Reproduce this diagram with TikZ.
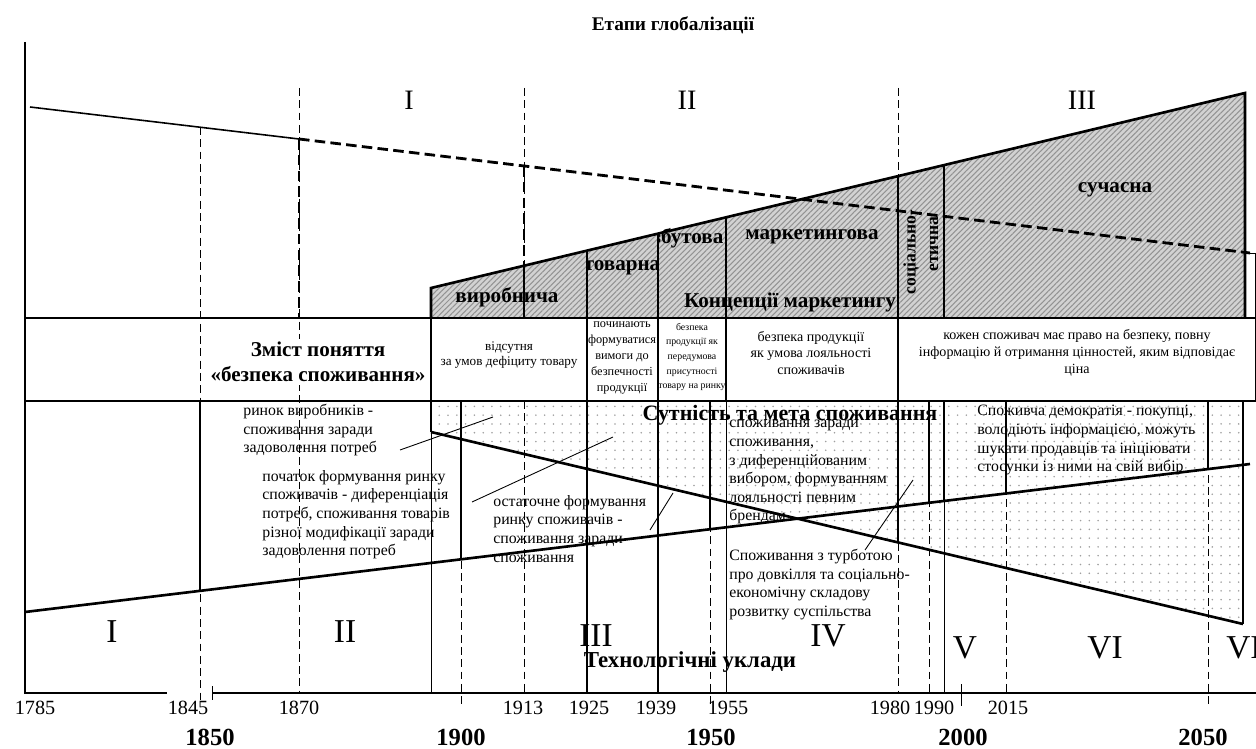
\documentclass[tikz,border=0pt]{standalone}
\usepackage{fontspec}
\setmainfont{Liberation Serif}
\usepackage{tikz}
\usetikzlibrary{patterns.meta}
\usetikzlibrary{calc}

\begin{document}
\begin{tikzpicture}[
        x=0.02cm, y=-0.02cm,
        frame/.style={line width=1.5pt},
        divider/.style={line width=1.1pt},
        fine/.style={line width=0.5pt},
        period/.style={line width=0.5pt, dash pattern=on 4.5pt off 2.5pt},
        trend/.style={line width=1.6pt, dash pattern=on 6pt off 3pt},
        hatched/.style={fill=gray!35, postaction={pattern={Lines[angle=45,distance=2.2pt,line width=0.6pt]}, pattern color=gray!85}},
        speckled/.style={pattern={Dots[distance=5pt,radius=0.5pt]}, pattern color=gray!75},
        title/.style={font=\bfseries\fontsize{11}{13}\selectfont, inner sep=1pt},
        stage/.style={font=\bfseries\fontsize{12}{14}\selectfont, inner sep=0pt},
        phase/.style={font=\fontsize{16}{19}\selectfont, inner sep=0pt},
        era/.style={font=\fontsize{19}{22}\selectfont, inner sep=0pt},
        note/.style={font=\fontsize{9}{10.6}\selectfont, align=left, anchor=north west, inner sep=0pt},
        cell/.style={align=center, inner sep=0pt},
        year/.style={font=\fontsize{11.5}{13}\selectfont, inner sep=0pt},
        bigyear/.style={font=\bfseries\fontsize{14}{16}\selectfont, inner sep=0pt}
    ]

    %=== Layout parameters (pixels of the original) ===%
    \def\axisy{693}
    \def\rowtop{318}
    \def\rowbot{401}

    \clip (0,0) rectangle (1256,749);

    %=== Shaded areas ===%
    \path[speckled] (431,\rowbot) -- (1243,\rowbot) -- (1243,624) -- (431,432) -- cycle;
    \path[hatched] (431,\rowtop) -- (431,288) -- (1245,93) -- (1245,\rowtop) -- cycle;

    %=== Period lines ===%
    \draw[period] (200,127) -- (200,700);
    \draw[period] (299,88) -- (299,\axisy);
    \draw[period] (524,88) -- (524,\rowtop);
    \draw[period] (524,\rowbot) -- (524,\axisy);
    \draw[period] (898,88) -- (898,\axisy);
    \draw[period] (461,\rowbot) -- (461,708);
    \draw[period] (710,\rowbot) -- (710,708);
    \draw[period] (929,\rowbot) -- (929,\axisy);
    \draw[period] (1006,\rowbot) -- (1006,\axisy);
    \draw[period] (1208,\rowbot) -- (1208,708);

    % thin solid lines down to the axis
    \draw[fine] (431,432) -- (431,\axisy);
    \draw[line width=0.8pt] (587,\rowbot) -- (587,\axisy);
    \draw[line width=0.8pt] (658,\rowbot) -- (658,\axisy);
    \draw[fine] (726,\rowbot) -- (726,\axisy);
    \draw[fine] (944,501) -- (944,\axisy);
    \draw[fine] (212,686) -- (212,700);
    \draw[fine] (961,684) -- (961,706);

    %=== Axes ===%
    \draw[line width=0.7pt] (25,42) -- (25,\axisy) -- (167,\axisy);
    \draw[line width=0.7pt] (212,\axisy) -- (1256,\axisy);

    %=== Globalisation trend ===%
    \draw[line width=0.9pt] (30,107) -- (299,139);
    \draw[trend] (299,139) -- (1250,253);
    \draw[trend] (299,139) -- (299,\rowtop);
    \draw[trend] (524,166) -- (524,266);
    \draw[divider] (524,266) -- (524,\rowtop);

    %=== Marketing concepts wedge ===%
    \draw[frame] (431,\rowtop) -- (431,288) -- (1245,93) -- (1245,\rowtop);
    \draw[divider] (587,251) -- (587,\rowtop);
    \draw[divider] (658,234) -- (658,\rowtop);
    \draw[divider] (726,217) -- (726,\rowtop);
    \draw[divider] (898,176) -- (898,\rowtop);
    \draw[divider] (944,165) -- (944,\rowtop);
    \draw[fine] (1245,253) -- (1255,253) -- (1255,\rowtop);

    %=== Content row ===%
    \draw[frame] (25,\rowtop) rectangle (1256,\rowbot);
    \draw[divider] (431,\rowtop) -- (431,\rowbot);
    \draw[divider] (587,\rowtop) -- (587,\rowbot);
    \draw[divider] (658,\rowtop) -- (658,\rowbot);
    \draw[divider] (726,\rowtop) -- (726,\rowbot);
    \draw[divider] (898,\rowtop) -- (898,\rowbot);

    %=== Consumption part ===%
    \draw[frame] (25,612) -- (1250,464);
    \draw[frame] (431,432) -- (1243,624);
    \draw[divider] (200,\rowbot) -- (200,591);
    \draw[divider] (431,\rowbot) -- (431,432);
    \draw[divider] (461,\rowbot) -- (461,559);
    \draw[divider] (710,\rowbot) -- (710,529);
    \draw[divider] (898,\rowbot) -- (898,542);
    \draw[divider] (929,\rowbot) -- (929,503);
    \draw[divider] (944,\rowbot) -- (944,501);
    \draw[divider] (1006,\rowbot) -- (1006,493);
    \draw[divider] (1208,\rowbot) -- (1208,469);
    \draw[divider] (1243,\rowbot) -- (1243,624);

    %=== Headings ===%
    \node[title] (etapy) at (673,25) {Етапи глобалізації};
    \node[phase] (gI) at (409,100) {I};
    \node[phase] (gII) at (687,100) {II};
    \node[phase] (gIII) at (1082,100) {III};

    %=== Wedge labels ===%
    \node[stage] (vyrob) at (507,297) {виробнича};
    \begin{scope}
        \clip (587,240) rectangle (658,\rowtop);
        \node[stage] (tovar) at (622,268) {товарна};
    \end{scope}
    \begin{scope}
        \clip (658,220) rectangle (726,\rowtop);
        \node[stage] (zbut) at (688,238) {збутова};
    \end{scope}
    \node[stage] (market) at (812,237) {маркетингова};
    \node[stage] (koncep) at (790,302) {Концепції маркетингу};
    \node[stage] (suchas) at (1115,190) {сучасна};
    \node[font=\bfseries\fontsize{10}{12}\selectfont, rotate=90, inner sep=0pt] (social) at (911,252) {соціально-};
    \node[font=\bfseries\fontsize{10}{12}\selectfont, rotate=90, inner sep=0pt] (ethic) at (934,244) {етична};

    %=== Row cells ===%
    \node[cell, fill=white, inner sep=2pt, font=\bfseries\fontsize{12}{14}\selectfont] (zmist) at (318,362) {Зміст поняття\\«безпека споживання»};
    \node[cell, font=\fontsize{7.5}{8.6}\selectfont] (c1) at (509,355) {відсутня\\за умов дефіциту товару};
    \node[cell, font=\fontsize{7}{9}\selectfont] (c2) at (622,358) {починають\\формуватися\\вимоги до\\безпечності\\продукції};
    \node[cell, font=\fontsize{5.6}{8.3}\selectfont] (c3) at (692,357) {безпека\\продукції як\\передумова\\присутності\\товару на ринку};
    \node[cell, font=\fontsize{8}{9.6}\selectfont] (c4) at (811,353) {безпека продукції\\як умова лояльності\\споживачів};
    \node[cell, font=\fontsize{8}{9.6}\selectfont] (c5) at (1077,353) {кожен споживач має право на безпеку, повну\\інформацію й отримання цінностей, яким відповідає\\ціна};

    %=== Consumption notes ===%
    \node[font=\bfseries\fontsize{12.5}{14}\selectfont, inner sep=0pt] (sutn) at (790,415) {Сутність та мета споживання};
    \node[note] (nA) at (243,404) {ринок виробників -\\споживання заради\\задоволення потреб};
    \node[note] (nB) at (262,470) {початок формування ринку\\споживачів - диференціація\\потреб, споживання товарів\\різної модифікації заради\\задоволення потреб};
    \node[note] (nC) at (493,495) {остаточне формування\\ринку споживачів -\\споживання заради\\споживання};
    \node[note] (nD) at (729,420) {споживання заради\\споживання,\\з диференційованим\\вибором, формуванням\\лояльності певним\\брендам};
    \node[note] (nE) at (729,549) {Споживання з турботою\\про довкілля та соціально-\\економічну складову\\розвитку суспільства};
    \node[note] (nF) at (977,405) {Споживча демократія - покупці,\\володіють інформацією, можуть\\шукати продавців та ініціювати\\стосунки із ними на свій вибір};

    % pointers from notes
    \coordinate (ptA) at (400,450);
    \coordinate (tgA) at (493,417);
    \coordinate (ptB) at (472,502);
    \coordinate (tgB) at (613,437);
    \coordinate (ptC) at (650,530);
    \coordinate (tgC) at (673,493);
    \coordinate (ptE) at (865,550);
    \coordinate (tgE) at (913,480);
    \draw[fine] (ptA) -- (tgA);
    \draw[fine] (ptB) -- (tgB);
    \draw[fine] (ptC) -- (tgC);
    \draw[fine] (ptE) -- (tgE);

    %=== Technological modes ===%
    \node[era] (tI) at (112,632) {I};
    \node[era] (tII) at (345,632) {II};
    \node[era] (tIII) at (596,636) {III};
    \node[era] (tIV) at (828,636) {IV};
    \node[era] (tV) at (965,648) {V};
    \node[era] (tVI) at (1105,648) {VI};
    \node[era, anchor=west] (tVII) at (1226,648) {VII};
    \node[font=\bfseries\fontsize{13}{15}\selectfont, inner sep=0pt] (uklady) at (690,662) {Технологічні уклади};

    %=== Year labels ===%
    \newcommand{\yearlabel}[2]{\node[year] (y#1) at (#2,708) {#1};}
    \newcommand{\bigyearlabel}[2]{\node[bigyear] (yb#1) at (#2,737) {#1};}

    \yearlabel{1785}{35}
    \yearlabel{1845}{188}
    \yearlabel{1870}{299}
    \yearlabel{1913}{523}
    \yearlabel{1925}{589}
    \yearlabel{1939}{656}
    \yearlabel{1955}{728}
    \yearlabel{1980}{890}
    \yearlabel{1990}{934}
    \yearlabel{2015}{1008}

    \bigyearlabel{1850}{210}
    \bigyearlabel{1900}{461}
    \bigyearlabel{1950}{711}
    \bigyearlabel{2000}{963}
    \bigyearlabel{2050}{1203}

\end{tikzpicture}
\end{document}
